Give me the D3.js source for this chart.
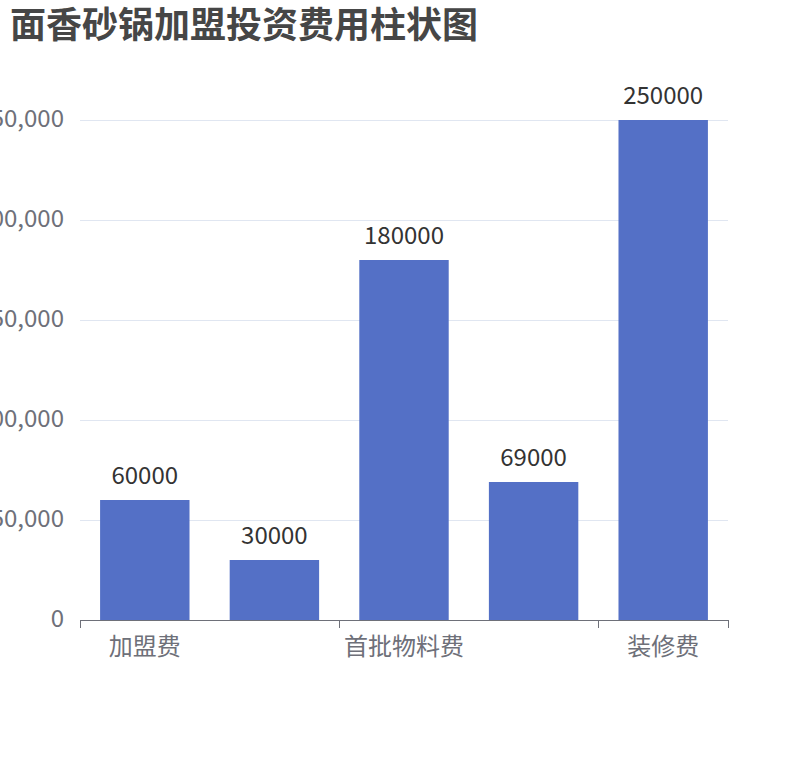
<!DOCTYPE html>
<html><head><meta charset="utf-8">
<script src="https://cdn.jsdelivr.net/npm/d3@7"></script>
<style>body{margin:0;background:#fff;} svg{display:block;font-family:"Noto Sans CJK SC","Noto Sans",sans-serif;}</style>
</head><body>
<svg id="c" width="810" height="760"></svg>
<script>
const titleText = "面香砂锅加盟投资费用柱状图";
const categories = ["加盟费", "保证金", "首批物料费", "设备费", "装修费"];
const values = [60000, 30000, 180000, 69000, 250000];
const yTicks = [0, 50000, 100000, 150000, 200000, 250000];

const svg = d3.select("#c");
const L = 80, R = 728, T = 120, B = 620;

svg.append("text").attr("x", 10).attr("y", 38)
  .attr("font-size", 36).attr("font-weight", "bold").attr("fill", "#464646")
  .text(titleText);

const x = d3.scaleBand().domain(categories).range([L, R]).padding(0);
const y = d3.scaleLinear().domain([0, 250000]).range([B, T]);

// grid
svg.append("g").selectAll("line").data(yTicks.filter(d => d > 0)).join("line")
  .attr("x1", L).attr("x2", R)
  .attr("y1", d => Math.round(y(d)) + 0.5).attr("y2", d => Math.round(y(d)) + 0.5)
  .attr("stroke", "#E0E6F1").attr("stroke-width", 1);

// y axis labels
const yAxis = d3.axisLeft(y).tickValues(yTicks).tickFormat(d3.format(",")).tickSize(0).tickPadding(16);
const gy = svg.append("g").attr("transform", `translate(${L},0)`).call(yAxis);
gy.select(".domain").remove();
gy.selectAll("text").attr("font-size", 24).attr("fill", "#6E7079")
  .attr("font-family", '"Noto Sans CJK SC","Noto Sans",sans-serif')
  .attr("dy", 6);

// bars
const bw = x.bandwidth() * 0.69;
svg.append("g").selectAll("rect").data(values).join("rect")
  .attr("x", (d, i) => x(categories[i]) + (x.bandwidth() - bw) / 2)
  .attr("y", d => y(d)).attr("width", bw).attr("height", d => B - y(d))
  .attr("fill", "#5470C6");

// value labels
svg.append("g").selectAll("text").data(values).join("text")
  .attr("x", (d, i) => x(categories[i]) + x.bandwidth() / 2)
  .attr("y", d => y(d) - 16)
  .attr("text-anchor", "middle").attr("font-size", 24).attr("fill", "#333")
  .text(d => d);

// x axis
const shown = categories.filter((c, i) => i % 2 === 0);
const xAxis = d3.axisBottom(x).tickValues(shown).tickSize(0).tickPadding(0);
const gx = svg.append("g").attr("transform", `translate(0,${B})`).call(xAxis);
gx.select(".domain").remove();
gx.selectAll("text").attr("font-size", 24).attr("fill", "#6E7079")
  .attr("font-family", '"Noto Sans CJK SC","Noto Sans",sans-serif')
  .attr("dy", 0).attr("y", 35);

svg.append("line").attr("x1", L).attr("x2", R).attr("y1", B + 0.5).attr("y2", B + 0.5)
  .attr("stroke", "#6E7079").attr("stroke-width", 1);
const tickXs = shown.map(c => x(c)).concat([R]);
svg.append("g").selectAll("line").data(tickXs).join("line")
  .attr("x1", d => Math.round(d) + 0.5).attr("x2", d => Math.round(d) + 0.5)
  .attr("y1", B).attr("y2", B + 8)
  .attr("stroke", "#6E7079").attr("stroke-width", 1);
</script>
</body></html>
